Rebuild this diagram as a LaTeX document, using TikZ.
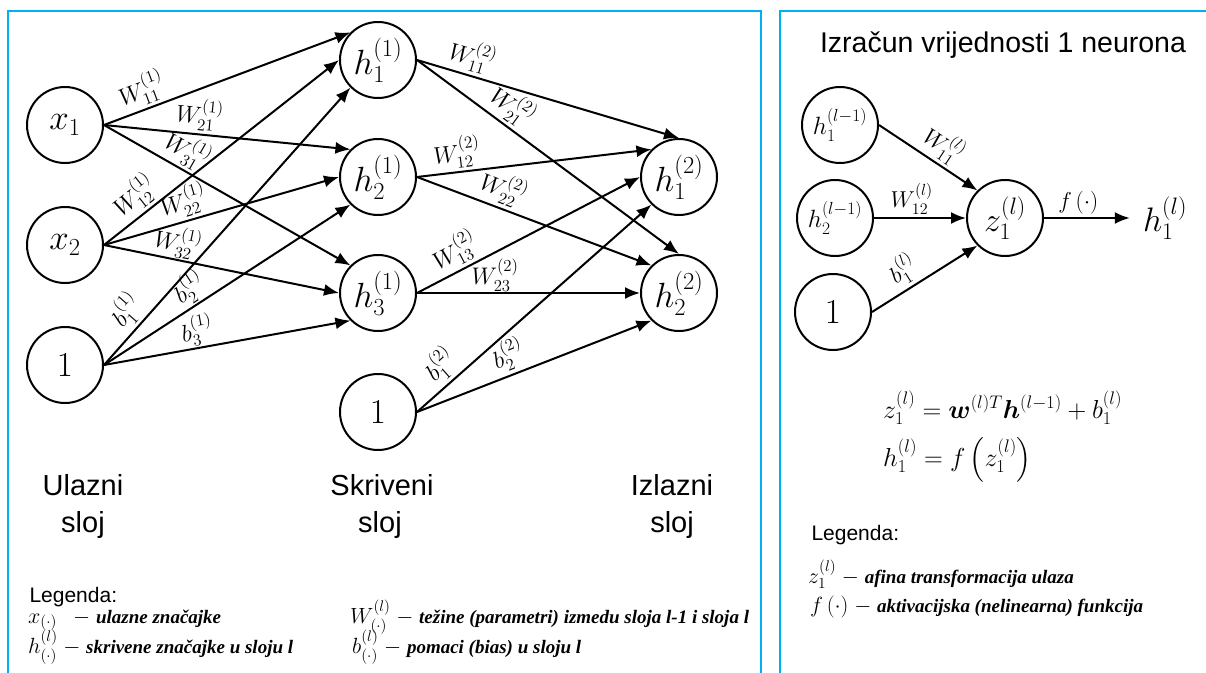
\RequirePackage{fix-cm}
\documentclass[tikz,border=0pt]{standalone}
\usepackage{amsmath,bm}
\usepackage{fontspec}
\newfontfamily\arial{Liberation Sans}
\newfontfamily\legserif{Liberation Serif}
\usetikzlibrary{arrows.meta}
\definecolor{panelblue}{RGB}{0,176,240}
\newcommand{\lgt}[1]{{\legserif\bfseries\itshape #1}}
\newcommand{\lgm}[1]{{\fontsize{22}{26}\selectfont$#1$}}
\begin{document}
\begin{tikzpicture}[x=1pt,y=-1pt,
  neuron/.style={circle,draw,line width=2pt,minimum size=76pt,inner sep=0pt,font=\fontsize{35}{40}\selectfont},
  smallneuron/.style={neuron,font=\fontsize{25}{30}\selectfont},
  arr/.style={line width=2pt,-{Latex[length=15pt,width=12pt]}},
  lbl/.style={sloped,above,inner xsep=1pt,inner ysep=3pt,font=\fontsize{24}{28}\selectfont},
  lbltwo/.style={lbl,font=\fontsize{23}{27}\selectfont},
  panel/.style={draw=panelblue,line width=2pt},
  layer/.style={anchor=base,font=\arial\fontsize{29}{34}\selectfont},
  legtitle/.style={anchor=base west,font=\arial\fontsize{21}{25}\selectfont},
  legitem/.style={anchor=base west,inner sep=0pt,font=\fontsize{19}{23}\selectfont},
  formula/.style={anchor=base west,inner sep=0pt,font=\fontsize{26}{31}\selectfont}]
\useasboundingbox (0,0) rectangle (1206,672);
\fill[white] (0,0) rectangle (1206,672);
% panels
\draw[panel] (8,700) -- (8,11) -- (761,11) -- (761,700);
\draw[panel] (780,700) -- (780,11) -- (1230,11);

% ---------------- left network ----------------
\node[neuron] (x1) at (65,125) {$x_1$};
\node[neuron] (x2) at (65,245) {$x_2$};
\node[neuron] (b0) at (65,365) {$1$};
\node[neuron] (h1) at (378,60) {$h_1^{(1)}$};
\node[neuron] (h2) at (378,177) {$h_2^{(1)}$};
\node[neuron] (h3) at (378,293) {$h_3^{(1)}$};
\node[neuron] (b1) at (378,412) {$1$};
\node[neuron] (o1) at (679,177) {$h_1^{(2)}$};
\node[neuron] (o2) at (679,293) {$h_2^{(2)}$};

\draw[arr] (x1.east) -- (h1.north west) node[lbl,pos=0.18] {$W_{11}^{(1)}$};
\draw[arr] (x1.east) -- (h2.north west) node[lbl,pos=0.38] {$W_{21}^{(1)}$};
\draw[arr] (x1.east) -- (h3.north west) node[lbl,pos=0.30] {$W_{31}^{(1)}$};
\draw[arr] (x2.east) -- (h1.west) node[lbl,pos=0.18] {$W_{12}^{(1)}$};
\draw[arr] (x2.east) -- (h2.west) node[lbl,pos=0.36] {$W_{22}^{(1)}$};
\draw[arr] (x2.east) -- (h3.west) node[lbl,pos=0.30,inner ysep=1pt] {$W_{32}^{(1)}$};
\draw[arr] (b0.east) -- (h1.south west) node[lbl,pos=0.15] {$b_1^{(1)}$};
\draw[arr] (b0.east) -- (h2.south west) node[lbl,pos=0.385,inner ysep=1pt] {$b_2^{(1)}$};
\draw[arr] (b0.east) -- (h3.south west) node[lbl,pos=0.39,inner ysep=1pt] {$b_3^{(1)}$};

\draw[arr] (h1.east) -- (o1.north) node[lbl,pos=0.19] {$W_{11}^{(2)}$};
\draw[arr] (h1.east) -- (o2.north) node[lbl,pos=0.32] {$W_{21}^{(2)}$};
\draw[arr] (h2.east) -- (o1.north west) node[lbl,pos=0.18] {$W_{12}^{(2)}$};
\draw[arr] (h2.east) -- (o2.north west) node[lbl,pos=0.34] {$W_{22}^{(2)}$};
\draw[arr] (h3.east) -- (o1.west) node[lbl,pos=0.21] {$W_{13}^{(2)}$};
\draw[arr] (h3.east) -- (o2.west) node[lbl,pos=0.35,inner ysep=1pt] {$W_{23}^{(2)}$};
\draw[arr] (b1.east) -- (o1.south west) node[lbl,pos=0.155] {$b_1^{(2)}$};
\draw[arr] (b1.east) -- (o2.south west) node[lbl,pos=0.42] {$b_2^{(2)}$};

% layer names
\node[layer] (ul1) at (83,495) {Ulazni};
\node[layer] (ul2) at (83,532) {sloj};
\node[layer] (sk1) at (382,495) {Skriveni};
\node[layer] (sk2) at (380,532) {sloj};
\node[layer] (iz1) at (672,495) {Izlazni};
\node[layer] (iz2) at (672,532) {sloj};

% left legend
\node[legtitle] (legL) at (26,602) {Legenda:};
\node[legitem] (lx) at (28,623) {\lgm{x_{(\cdot)}}\;\; \lgm{-} \lgt{ulazne značajke}};
\node[legitem] (lh) at (28,653) {\lgm{h_{(\cdot)}^{(l)}} \lgm{-} \lgt{skrivene značajke u sloju l}};
\node[legitem] (lw) at (350,623) {\lgm{W_{(\cdot)}^{(l)}} \lgm{-} \lgt{težine (parametri) izmedu sloja l-1 i sloja l}};
\node[legitem] (lb) at (352,653) {\lgm{b_{(\cdot)}^{(l)}} \lgm{-} \lgt{pomaci (bias) u sloju l}};

% ---------------- right panel ----------------
\node[anchor=base,font=\arial\fontsize{28.5}{34}\selectfont] (title) at (1003,52) {Izračun vrijednosti 1 neurona};
\node[smallneuron] (p1) at (840,125) {$h_1^{(l-1)}$};
\node[smallneuron] (p2) at (835,218) {$h_2^{(l-1)}$};
\node[neuron] (p3) at (833,312) {$1$};
\node[neuron,font=\fontsize{34}{40}\selectfont] (z) at (1005,218) {$z_1^{(l)}$};
\node[inner xsep=13pt,inner ysep=0pt,font=\fontsize{34}{40}\selectfont] (hout) at (1165,218) {$h_1^{(l)}$};

\draw[arr] (p1.east) -- (z.north west) node[lbltwo,pos=0.55] {$W_{11}^{(l)}$};
\draw[arr] (p2.east) -- (z.west) node[lbltwo,pos=0.41] {$W_{12}^{(l)}$};
\draw[arr] (p3.east) -- (z.south west) node[lbltwo,pos=0.39] {$b_1^{(l)}$};
\draw[arr] (z.east) -- (hout.west) node[lbltwo,pos=0.4] {$f\,(\cdot)$};

\node[formula] (eq1) at (883,418) {$z_1^{(l)} = \bm{w}^{(l)T}\bm{h}^{(l-1)} + b_1^{(l)}$};
\node[formula] (eq2) at (883,466) {$h_1^{(l)} = f\left(z_1^{(l)}\right)$};

\node[legtitle] (legR) at (808,540) {Legenda:};
\node[legitem] (lz) at (808,583) {\lgm{z_1^{(l)}} \lgm{-} \lgt{afina transformacija ulaza}};
\node[legitem] (lf) at (810,612) {\lgm{f\,(\cdot)} \lgm{-} \lgt{aktivacijska (nelinearna) funkcija}};
\end{tikzpicture}
\end{document}
